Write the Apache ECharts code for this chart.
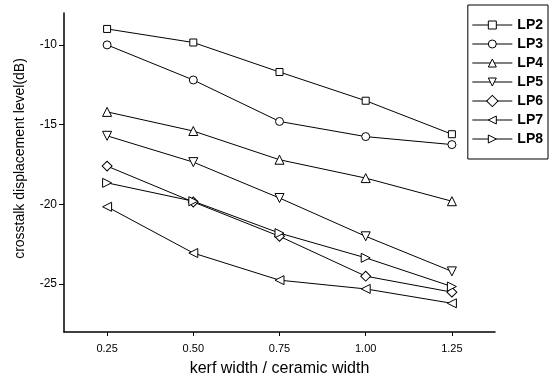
<!DOCTYPE html>
<html lang="en" style="height: 100%">
<head>
  <meta charset="utf-8">
</head>
<body style="height: 100%; margin: 0; background: #fff">
  <div id="container" style="width: 550px; height: 385px"></div>

  <script type="text/javascript" src="https://cdn.jsdelivr.net/npm/echarts@6/dist/echarts.min.js"></script>

  <script type="text/javascript">
    var ratios = [0.25, 0.50, 0.75, 1.00, 1.25];
    var lp2 = [-9.0, -9.85, -11.7, -13.5, -15.6];
    var lp3 = [-10.0, -12.2, -14.8, -15.75, -16.25];
    var lp4 = [-14.2, -15.4, -17.2, -18.35, -19.8];
    var lp5 = [-15.7, -17.35, -19.6, -22.0, -24.2];
    var lp6 = [-17.6, -19.85, -22.0, -24.5, -25.5];
    var lp7 = [-20.15, -23.05, -24.75, -25.3, -26.2];
    var lp8 = [-18.65, -19.8, -21.8, -23.35, -25.15];
    var seriesNames = ['LP2', 'LP3', 'LP4', 'LP5', 'LP6', 'LP7', 'LP8'];
    var xTicks = [0.25, 0.50, 0.75, 1.00, 1.25];
    var yTicks = [-10, -15, -20, -25];

    var dom = document.getElementById('container');
    var myChart = echarts.init(dom, null, { renderer: 'canvas' });

    // marker shape per series: [symbol, rotate, size]
    var marks = [
      ['rect', 0, 7], ['circle', 0, 8], ['triangle', 0, 9], ['triangle', 180, 9],
      ['rect', 45, 7], ['triangle', 90, 9], ['triangle', -90, 9]
    ];
    var allData = [lp2, lp3, lp4, lp5, lp6, lp7, lp8];

    function pairs(ys) {
      return ratios.map(function (x, i) { return [x, ys[i]]; });
    }

    var series = seriesNames.map(function (name, k) {
      return {
        name: name,
        type: 'line',
        data: pairs(allData[k]),
        symbol: marks[k][0],
        symbolRotate: marks[k][1],
        symbolSize: marks[k][2],
        showAllSymbol: true,
        lineStyle: { color: '#000', width: 1 },
        itemStyle: { color: '#fff', borderColor: '#000', borderWidth: 1 },
        emphasis: { disabled: true }
      };
    });

    var option = {
      animation: false,
      backgroundColor: '#fff',
      grid: { left: 64, right: 55, top: 13, bottom: 53 },
      legend: {
        orient: 'vertical',
        right: 2,
        top: 5,
        data: seriesNames,
        itemWidth: 40,
        itemHeight: 10,
        itemGap: 5,
        padding: [13, 5, 13, 4],
        borderColor: '#000',
        borderWidth: 1,
        backgroundColor: '#fff',
        lineStyle: { width: 1 },
        itemStyle: { borderWidth: 1 },
        textStyle: { fontFamily: 'Liberation Sans', fontSize: 14, fontWeight: 'bold', color: '#000' }
      },
      xAxis: {
        type: 'value',
        min: 0.125,
        max: 1.375,
        name: 'kerf width / ceramic width',
        nameLocation: 'middle',
        nameGap: 29,
        nameTextStyle: { fontFamily: 'Liberation Sans', fontSize: 16, color: '#000' },
        axisLine: { lineStyle: { color: '#000', width: 1.5 } },
        axisTick: { show: true, customValues: xTicks, length: 4, lineStyle: { color: '#000' } },
        axisLabel: {
          customValues: xTicks,
          fontFamily: 'Liberation Sans', fontSize: 11, color: '#000', margin: 11,
          formatter: function (v) { return v.toFixed(2); }
        },
        splitLine: { show: false }
      },
      yAxis: {
        type: 'value',
        min: -28,
        max: -8,
        name: 'crosstalk displacement level(dB)',
        nameLocation: 'middle',
        nameGap: 37,
        nameTextStyle: { fontFamily: 'Liberation Sans', fontSize: 14, color: '#000', padding: [0, 0, 0, 28] },
        axisLine: { show: true, lineStyle: { color: '#000', width: 1.5 } },
        axisTick: { show: true, customValues: yTicks, length: 5, lineStyle: { color: '#000' } },
        axisLabel: {
          customValues: yTicks,
          fontFamily: 'Liberation Sans', fontSize: 12, color: '#000', margin: 7
        },
        splitLine: { show: false }
      },
      series: series
    };

    myChart.setOption(option);
    window.addEventListener('resize', myChart.resize);
  </script>
</body>
</html>
